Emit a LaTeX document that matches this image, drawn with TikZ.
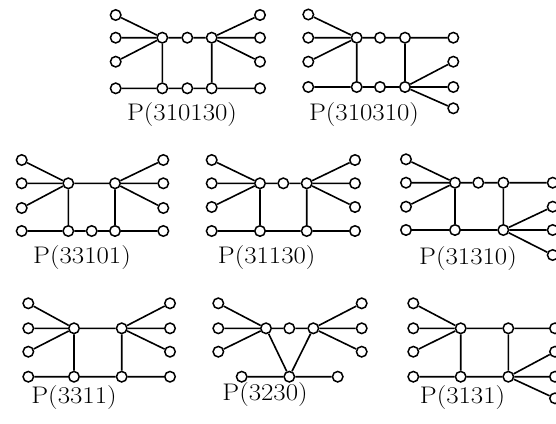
\documentclass[tikz,border=0pt]{standalone}
\begin{document}
\begin{tikzpicture}[x=1bp,y=-1bp,
  v/.style={circle,draw,line width=1.5bp,fill=white,minimum size=10.5bp,inner sep=0pt},
  e/.style={line width=1.6bp},
  lab/.style={anchor=base,inner sep=0pt,font=\fontsize{24bp}{26bp}\selectfont}]
\useasboundingbox (0,0) rectangle (556,423);
\clip (0,0) rectangle (556,423);
% ---------- P(310130)
\node[v] (Al1) at (115.7,15) {};
\node[v] (Al2) at (115.7,37.7) {};
\node[v] (Al3) at (115.7,61.7) {};
\node[v] (Al4) at (115.7,88.3) {};
\node[v] (Ah1) at (162.3,37.7) {};
\node[v] (Am) at (187.3,37.7) {};
\node[v] (Ah2) at (211.7,37.7) {};
\node[v] (Ar1) at (260,15) {};
\node[v] (Ar2) at (260,37.7) {};
\node[v] (Ar3) at (260,61.7) {};
\node[v] (Ar4) at (260,88.3) {};
\node[v] (Ab1) at (162.3,88.3) {};
\node[v] (Abm) at (187.3,88.3) {};
\node[v] (Ab2) at (211.7,88.3) {};
\draw[e] (Al1)--(Ah1) (Al2)--(Ah1) (Al3)--(Ah1) (Ah1)--(Am) (Am)--(Ah2)
  (Ah2)--(Ar1) (Ah2)--(Ar2) (Ah2)--(Ar3) (Ah1)--(Ab1) (Ah2)--(Ab2)
  (Al4)--(Ab1) (Ab1)--(Abm) (Abm)--(Ab2) (Ab2)--(Ar4);
\node[lab] (Alab) at (182,120.5) {\scalebox{1.12}[1]{P(310130)}};
% ---------- P(310310)
\node[v] (Bl1) at (308.3,14.5) {};
\node[v] (Bl2) at (308.3,37.7) {};
\node[v] (Bl3) at (308.3,61.7) {};
\node[v] (Bl4) at (308.3,87) {};
\node[v] (Bh1) at (356.7,37.7) {};
\node[v] (Bm) at (380,37.7) {};
\node[v] (Bh2) at (405,37.7) {};
\node[v] (Br1) at (453.3,37.7) {};
\node[v] (Bb1) at (356.7,87) {};
\node[v] (Bbm) at (380,87) {};
\node[v] (Bb2) at (405,87) {};
\node[v] (Br2) at (453.3,61.7) {};
\node[v] (Br3) at (453.3,87) {};
\node[v] (Br4) at (453.3,108.3) {};
\draw[e] (Bl1)--(Bh1) (Bl2)--(Bh1) (Bl3)--(Bh1) (Bh1)--(Bm) (Bm)--(Bh2) (Bh2)--(Br1)
  (Bh1)--(Bb1) (Bh2)--(Bb2) (Bl4)--(Bb1) (Bb1)--(Bbm) (Bbm)--(Bb2)
  (Bb2)--(Br2) (Bb2)--(Br3) (Bb2)--(Br4);
\node[lab] (Blab) at (364,120.5) {\scalebox{1.12}[1]{P(310310)}};
% ---------- P(33101)
\node[v] (Cl1) at (21.7,160) {};
\node[v] (Cl2) at (21.7,183.3) {};
\node[v] (Cl3) at (21.7,208) {};
\node[v] (Cl4) at (21.7,231) {};
\node[v] (Ch1) at (68.3,183.3) {};
\node[v] (Ch2) at (115,183.3) {};
\node[v] (Cr1) at (163.3,160) {};
\node[v] (Cr2) at (163.3,183.3) {};
\node[v] (Cr3) at (163.3,208) {};
\node[v] (Cr4) at (163.3,231) {};
\node[v] (Cb1) at (68.3,231) {};
\node[v] (Cbm) at (91.7,231) {};
\node[v] (Cb2) at (115,231) {};
\draw[e] (Cl1)--(Ch1) (Cl2)--(Ch1) (Cl3)--(Ch1) (Ch1)--(Ch2)
  (Ch2)--(Cr1) (Ch2)--(Cr2) (Ch2)--(Cr3) (Ch1)--(Cb1) (Ch2)--(Cb2)
  (Cl4)--(Cb1) (Cb1)--(Cbm) (Cbm)--(Cb2) (Cb2)--(Cr4);
\node[lab] (Clab) at (82,263) {\scalebox{1.12}[1]{P(33101)}};
% ---------- P(31130)
\node[v] (Dl1) at (211.7,160) {};
\node[v] (Dl2) at (211.7,183.3) {};
\node[v] (Dl3) at (211.7,207) {};
\node[v] (Dl4) at (211.7,231) {};
\node[v] (Dh1) at (260,183.3) {};
\node[v] (Dm) at (283.3,183.3) {};
\node[v] (Dh2) at (306.7,183.3) {};
\node[v] (Dr1) at (355,160) {};
\node[v] (Dr2) at (355,183.3) {};
\node[v] (Dr3) at (355,207) {};
\node[v] (Dr4) at (355,231) {};
\node[v] (Db1) at (260,231) {};
\node[v] (Db2) at (306.7,231) {};
\draw[e] (Dl1)--(Dh1) (Dl2)--(Dh1) (Dl3)--(Dh1) (Dh1)--(Dm) (Dm)--(Dh2)
  (Dh2)--(Dr1) (Dh2)--(Dr2) (Dh2)--(Dr3) (Dh1)--(Db1) (Dh2)--(Db2)
  (Dl4)--(Db1) (Db1)--(Db2) (Db2)--(Dr4);
\node[lab] (Dlab) at (266.7,263) {\scalebox{1.12}[1]{P(31130)}};
% ---------- P(31310)
\node[v] (El1) at (406,159.3) {};
\node[v] (El2) at (406,182.7) {};
\node[v] (El3) at (406,206.7) {};
\node[v] (El4) at (406,230) {};
\node[v] (Eh1) at (455,182.7) {};
\node[v] (Em) at (478.3,182.7) {};
\node[v] (Eh2) at (503.3,182.7) {};
\node[v] (Er1) at (552.7,182.7) {};
\node[v] (Eb1) at (455,230) {};
\node[v] (Eb2) at (503.3,230) {};
\node[v] (Er2) at (552.7,206.7) {};
\node[v] (Er3) at (552.7,230) {};
\node[v] (Er4) at (552.7,255) {};
\draw[e] (El1)--(Eh1) (El2)--(Eh1) (El3)--(Eh1) (Eh1)--(Em) (Em)--(Eh2) (Eh2)--(Er1)
  (Eh1)--(Eb1) (Eh2)--(Eb2) (El4)--(Eb1) (Eb1)--(Eb2)
  (Eb2)--(Er2) (Eb2)--(Er3) (Eb2)--(Er4);
\node[lab] (Elab) at (468,264) {\scalebox{1.12}[1]{P(31310)}};
% ---------- P(3311)
\node[v] (Fl1) at (28.3,303.3) {};
\node[v] (Fl2) at (28.3,328.3) {};
\node[v] (Fl3) at (28.3,351.7) {};
\node[v] (Fl4) at (28.3,376.7) {};
\node[v] (Fh1) at (74,328.3) {};
\node[v] (Fh2) at (121.7,328.3) {};
\node[v] (Fr1) at (170,303.3) {};
\node[v] (Fr2) at (170,328.3) {};
\node[v] (Fr3) at (170,351.7) {};
\node[v] (Fr4) at (170,376.7) {};
\node[v] (Fb1) at (74,376.7) {};
\node[v] (Fb2) at (121.7,376.7) {};
\draw[e] (Fl1)--(Fh1) (Fl2)--(Fh1) (Fl3)--(Fh1) (Fh1)--(Fh2)
  (Fh2)--(Fr1) (Fh2)--(Fr2) (Fh2)--(Fr3) (Fh1)--(Fb1) (Fh2)--(Fb2)
  (Fl4)--(Fb1) (Fb1)--(Fb2) (Fb2)--(Fr4);
\node[lab] (Flab) at (74,403.3) {\scalebox{1.12}[1]{P(3311)}};
% ---------- P(3230)
\node[v] (Gl1) at (218.3,303.3) {};
\node[v] (Gl2) at (218.3,328.3) {};
\node[v] (Gl3) at (218.3,351.7) {};
\node[v] (Gh1) at (266,328.3) {};
\node[v] (Gm) at (289.3,328.3) {};
\node[v] (Gh2) at (313.3,328.3) {};
\node[v] (Gr1) at (361.7,303.3) {};
\node[v] (Gr2) at (361.7,328.3) {};
\node[v] (Gr3) at (361.7,351.7) {};
\node[v] (Gbl) at (241.7,376.7) {};
\node[v] (Gbc) at (289.3,376.7) {};
\node[v] (Gbr) at (337.7,376.7) {};
\draw[e] (Gl1)--(Gh1) (Gl2)--(Gh1) (Gl3)--(Gh1) (Gh1)--(Gm) (Gm)--(Gh2)
  (Gh2)--(Gr1) (Gh2)--(Gr2) (Gh2)--(Gr3) (Gh1)--(Gbc) (Gh2)--(Gbc)
  (Gbl)--(Gbc) (Gbc)--(Gbr);
\node[lab] (Glab) at (265,400) {\scalebox{1.12}[1]{P(3230)}};
% ---------- P(3131)
\node[v] (Hl1) at (413.3,303.3) {};
\node[v] (Hl2) at (413.3,328.3) {};
\node[v] (Hl3) at (413.3,351.7) {};
\node[v] (Hl4) at (413.3,376.7) {};
\node[v] (Hh1) at (460.7,328.3) {};
\node[v] (Hh2) at (508.3,328.3) {};
\node[v] (Hr1) at (555,328.3) {};
\node[v] (Hb1) at (460.7,376.7) {};
\node[v] (Hb2) at (508.3,376.7) {};
\node[v] (Hr2) at (555,351.7) {};
\node[v] (Hr3) at (555,376.7) {};
\node[v] (Hr4) at (555,398.3) {};
\draw[e] (Hl1)--(Hh1) (Hl2)--(Hh1) (Hl3)--(Hh1) (Hh1)--(Hh2) (Hh2)--(Hr1)
  (Hh1)--(Hb1) (Hh2)--(Hb2) (Hl4)--(Hb1) (Hb1)--(Hb2)
  (Hb2)--(Hr2) (Hb2)--(Hr3) (Hb2)--(Hr4);
\node[lab] (Hlab) at (462.5,403.3) {\scalebox{1.12}[1]{P(3131)}};
\end{tikzpicture}
\end{document}
